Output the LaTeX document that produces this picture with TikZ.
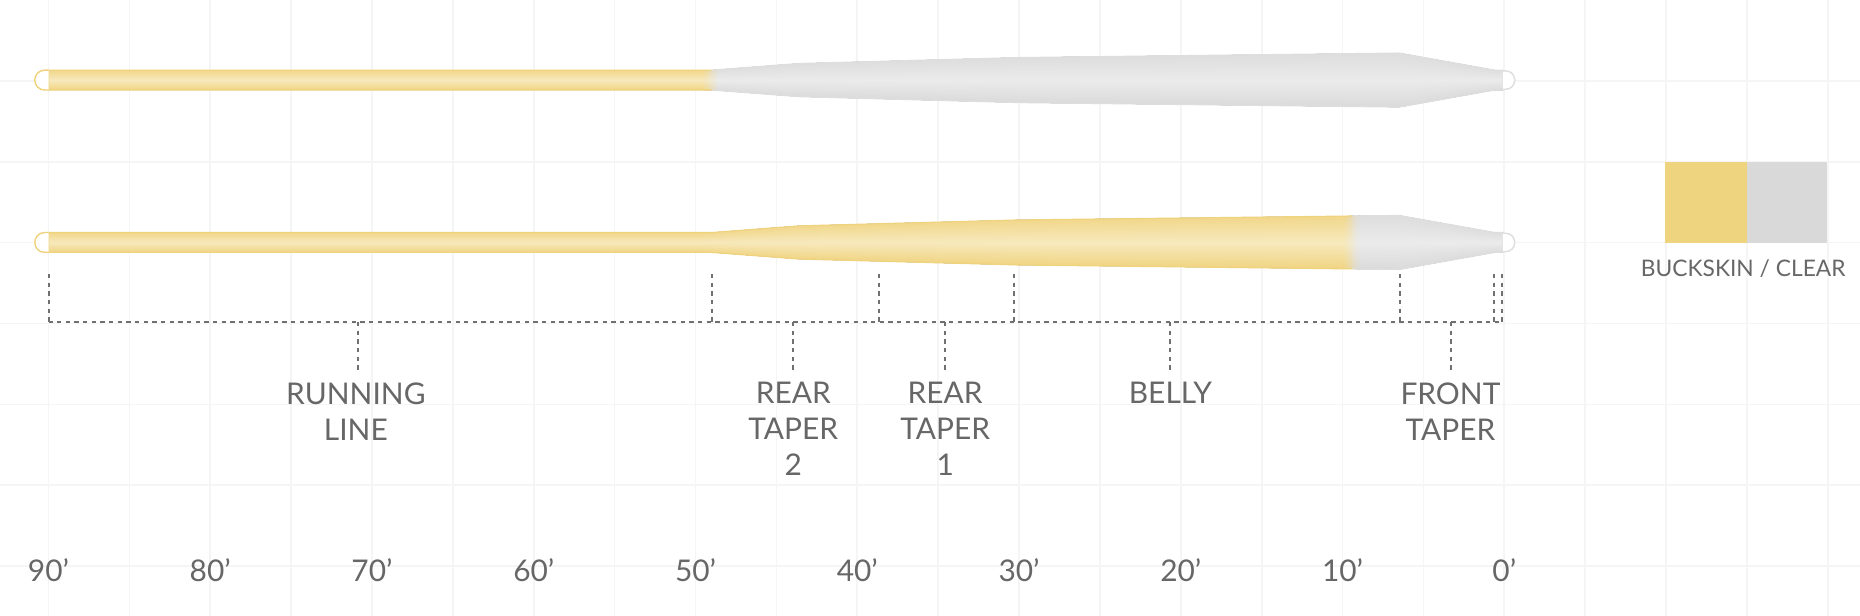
\documentclass[tikz,border=0pt]{standalone}
\usepackage{fontspec}
\setmainfont{Lato}
\definecolor{gridc}{HTML}{F5F5F5}
\definecolor{txt}{HTML}{676767}
\definecolor{dashc}{HTML}{707070}
\definecolor{yelT}{HTML}{F1D78A}
\definecolor{yelM}{HTML}{F7E9BD}
\definecolor{yelB}{HTML}{F0D481}
\definecolor{gryT}{HTML}{DDDDDD}
\definecolor{gryM}{HTML}{EBEBEB}
\definecolor{gryB}{HTML}{DADADA}
\definecolor{yelO}{HTML}{EFD27C}
\definecolor{gryO}{HTML}{DEDEDE}
\definecolor{buck}{HTML}{EFD47F}
\definecolor{clearc}{HTML}{D9D9D9}

\newcommand\flyoutline[1]{(40.9,#1-8.4) -- (600,#1-8.4) -- (673.5,#1-14) -- (858.5,#1-19) -- (1179.6,#1-22.8) -- (1260,#1-8.4) -- (1267,#1-8.4) -- (1267,#1+8.4) -- (1260,#1+8.4) -- (1179.6,#1+22.8) -- (858.5,#1+19) -- (673.5,#1+14) -- (600,#1+8.4) -- (40.9,#1+8.4) -- cycle}

\newcommand\flyhalf[2]{%
  \pgfmathsetmacro#2{(#1<600)?8.4:((#1<673.5)?8.4+(#1-600)*0.07619:((#1<858.5)?14+(#1-673.5)*0.027027:((#1<1179.6)?19+(#1-858.5)*0.011834:((#1<1260)?22.8-(#1-1179.6)*0.179104:8.4))))}}

\newcommand\flyline[2]{%
  \begin{scope}
    \clip \flyoutline{#1};
    \fill[top color=yelT, bottom color=yelB, middle color=yelM] (40,#1-8.4) rectangle (595,#1+8.4);
    \foreach \xs in {594,597,...,1266}{
      \flyhalf{\xs}{\flyA}\flyhalf{\xs+3}{\flyB}
      \pgfmathsetmacro\flyH{max(\flyA,\flyB)+0.6}
      \pgfmathsetmacro\flyT{100*min(max((\xs+1.5-#2+6)/12,0),1)}
      \fill[top color=gryT!\flyT!yelT, bottom color=gryB!\flyT!yelB, middle color=gryM!\flyT!yelM] (\xs-0.3,#1-\flyH) rectangle (\xs+3.3,#1+\flyH);
    }
  \end{scope}
  \begin{scope}
    \clip (0,0) rectangle (#2,519);
    \draw[yelO, line width=0.45pt] \flyoutline{#1};
  \end{scope}
  \begin{scope}
    \clip (#2,0) rectangle (1568,519);
    \draw[gryO, line width=0.45pt] \flyoutline{#1};
  \end{scope}
  \draw[yelO, fill=white, line width=0.6pt] (40.9,#1-8.4) -- (38,#1-8.4) .. controls (26.5,#1-8.4) and (26.5,#1+8.4) .. (38,#1+8.4) -- (40.9,#1+8.4);
  \draw[gryO, fill=white, line width=0.6pt] (1267,#1-7.8) -- (1269,#1-7.8) .. controls (1279.5,#1-7.8) and (1279.5,#1+7.8) .. (1269,#1+7.8) -- (1267,#1+7.8);
}

\begin{document}
\begin{tikzpicture}[x=0.5pt, y=-0.5pt,
  gridline/.style={gridc, line width=0.7pt},
  dashline/.style={dashc, line width=0.85pt, dash pattern=on 1.8pt off 1.85pt},
  seglabel/.style={text=txt, font=\fontsize{12.6}{15.15}\selectfont, align=center, inner sep=0pt, anchor=north},
  axislabel/.style={text=txt, font=\fontsize{12.6}{15.15}\selectfont, inner sep=0pt, anchor=base},
  legendtext/.style={text=txt, font=\fontsize{9.6}{11}\selectfont, inner sep=0pt, anchor=base}]
\useasboundingbox (0,0) rectangle (1568,519);
\fill[white] (0,0) rectangle (1568,519);
% grid
\foreach \k in {0,...,22} \draw[gridline] (40.9+68.18*\k,0) -- (40.9+68.18*\k,519);
\foreach \j in {1,...,7} \draw[gridline] (0,68.18*\j) -- (1568,68.18*\j);
% legend
\fill[buck] (1404,136.4) rectangle (1472.3,204.5);
\fill[clearc] (1472.3,136.4) rectangle (1540.4,204.5);
\node[legendtext] (legend) at (1469.5,233.5) {BUCKSKIN / CLEAR};
% fly lines
\flyline{67.5}{600}
\flyline{204.4}{1140}
% segment ticks
\coordinate (hl) at (0,271.5);
\coordinate (t0) at (40.9,231);
\coordinate (t1) at (600.4,231);
\coordinate (t2) at (740.6,231);
\coordinate (t3) at (854.8,231);
\coordinate (t4) at (1180.2,231);
\coordinate (t5) at (1259.5,231);
\coordinate (t6) at (1265.8,231);
\foreach \t in {t0,t1,t2,t3,t4,t5,t6} \draw[dashline] (\t) -- (\t |- hl);
\draw[dashline] (t0 |- hl) -- (t6 |- hl);
% labels
\node[seglabel] (running) at (300,322) {RUNNING\\LINE};
\node[seglabel] (rear2) at (668.7,322) {REAR\\TAPER\\2};
\node[seglabel] (rear1) at (796.8,322) {REAR\\TAPER\\1};
\node[seglabel] (belly) at (986.7,322) {BELLY};
\node[seglabel] (front) at (1222.7,322) {FRONT\\TAPER};
\coordinate (dRun) at (301.7,312);
\coordinate (dR2) at (668.7,312);
\coordinate (dR1) at (796.8,312);
\coordinate (dBel) at (986.7,312);
\coordinate (dFr) at (1222.9,312);
\foreach \d in {dRun,dR2,dR1,dBel,dFr} \draw[dashline] (\d |- hl) -- (\d);
% axis
\foreach \n [count=\i from 0] in {90,80,70,60,50,40,30,20,10,0}
  \node[axislabel] (ax\n) at (40.9+136.36*\i,490.4) {\n’};
\end{tikzpicture}
\end{document}
